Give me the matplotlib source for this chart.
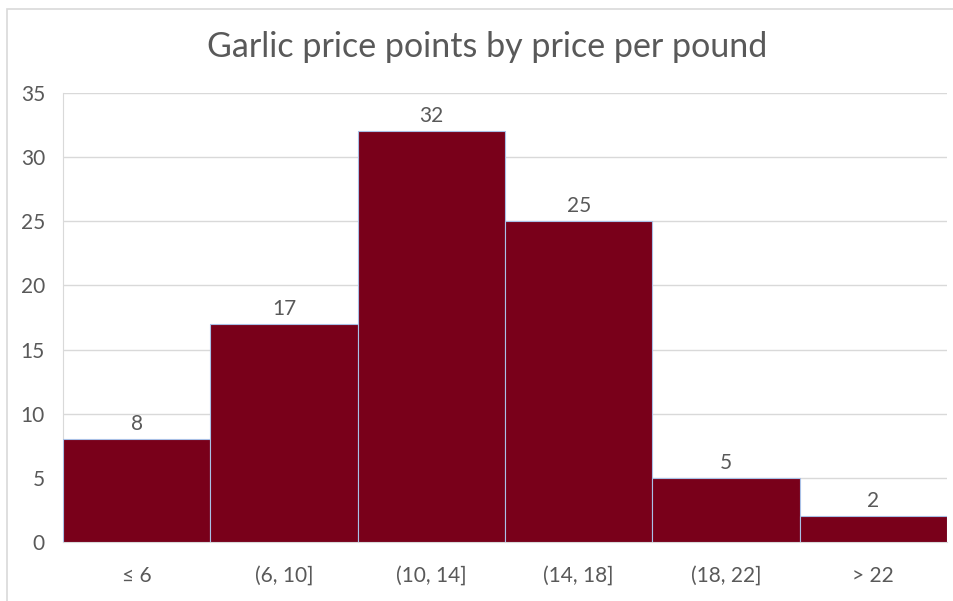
import matplotlib
matplotlib.use("Agg")
import matplotlib.pyplot as plt
from matplotlib.patches import Rectangle

categories = ["≤ 6", "(6, 10]", "(10, 14]", "(14, 18]", "(18, 22]", "> 22"]
counts = [8, 17, 32, 25, 5, 2]
yticks = [0, 5, 10, 15, 20, 25, 30, 35]
title = "Garlic price points by price per pound"

plt.rcParams['font.family'] = ['Lato', 'DejaVu Sans']

fig = plt.figure(figsize=(9.54, 6.01), dpi=100)
fig.patch.set_facecolor('white')
# outer chart border
fig.patches.append(Rectangle((7/954, -0.01), 1.0, 1 - 8.5/601 + 0.01,
                             transform=fig.transFigure, fill=False,
                             edgecolor='#D9D9D9', linewidth=1.2))

ax = fig.add_axes([63/954, 1 - 542/601, (947 - 63)/954, (542 - 93)/601])
x = list(range(len(categories)))
bars = ax.bar(x, counts, width=1.0, color='#79001A', edgecolor='#A9C0E6',
              linewidth=0.8, zorder=3)
for xi, c in zip(x, counts):
    ax.text(xi, c + 0.4, str(c), ha='center', va='bottom', fontsize=15,
            color='#595959')

ax.set_xlim(-0.5, len(categories) - 0.5)
ax.set_ylim(0, 35)
ax.set_yticks(yticks)
ax.set_xticks(x)
ax.set_xticklabels(categories)
ax.tick_params(axis='both', length=0, labelsize=15, colors='#595959')
ax.tick_params(axis='x', pad=17)
ax.tick_params(axis='y', pad=13)
ax.grid(axis='y', color='#D9D9D9', linewidth=1, zorder=0)
for s in ['top', 'right']:
    ax.spines[s].set_visible(False)
ax.spines['left'].set_color('#D9D9D9')
ax.spines['bottom'].set_color('#D9D9D9')
ax.set_axisbelow(True)

fig.text(487/954, 1 - 47/601, title, ha='center', va='center', fontsize=24.5,
         color='#595959')

fig.savefig("out.png", dpi=100)
